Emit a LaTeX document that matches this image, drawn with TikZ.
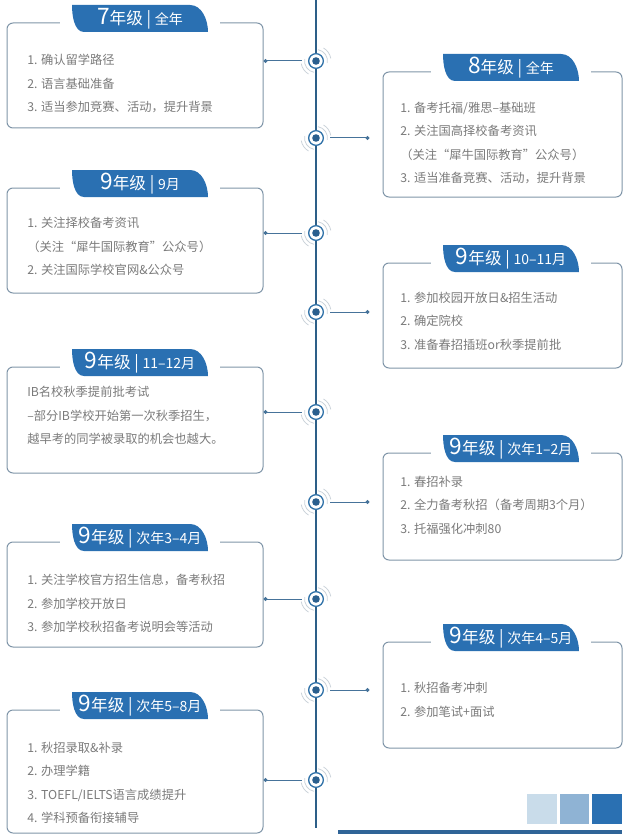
\documentclass[tikz,border=0pt]{standalone}
\usepackage{fontspec}
\setmainfont{Noto Sans CJK SC}
\usetikzlibrary{fit,calc,arrows.meta}

\definecolor{tabblue}{HTML}{2A70B2}
\definecolor{railblue}{HTML}{2D5F88}
\definecolor{ringblue}{HTML}{3172A8}
\definecolor{dotblue}{HTML}{2A5F8E}
\definecolor{halogray}{HTML}{CBD3DA}
\definecolor{boxgray}{HTML}{7F95A8}
\definecolor{textgray}{HTML}{7A7A7A}
\definecolor{linkblue}{HTML}{46739A}
\definecolor{sqlight}{HTML}{C9DCEA}
\definecolor{sqmid}{HTML}{8FB3D4}
\definecolor{sqdark}{HTML}{2A70B2}
\definecolor{barblue}{HTML}{2F6497}

% tab over the top edge of a box: #1 left x, #2 y of the box top
\newcommand{\gradetab}[2]{%
  \fill[white] (#1-12,#2-2) rectangle (#1+148,#2+2);
  \fill[tabblue] (#1,#2-18) -- ++(118,0) .. controls +(12,0) and +(0,-12) .. ++(18,27)
    -- ++(-124,0) .. controls +(-10,0) and +(0,10) .. ++(-12,-27) -- cycle;
}
\newcommand{\gradelabel}[2]{{\fontsize{17}{17}\selectfont #1}{\fontsize{12.5}{12}\selectfont 年级 | }{\fontsize{10.5}{10}\selectfont #2}}

\begin{document}
\begin{tikzpicture}[x=0.75pt, y=-0.75pt,
  entry/.style={draw=boxgray, line width=0.75pt, rounded corners=4.5pt, inner sep=0pt},
  items/.style={anchor=west, align=left, text=textgray, inner sep=0pt, font=\fontsize{9.2}{17.6}\selectfont},
  tabtext/.style={text=white, inner sep=0pt},
  milestone/.style={circle, draw=ringblue, line width=1pt, fill=white, minimum size=11pt, inner sep=0pt},
  halo/.style={draw=halogray, line width=0.6pt},
  rail/.style={draw=railblue, line width=1pt},
  linkl/.style={draw=linkblue, line width=0.75pt, {Circle[length=3pt]}-, shorten >=4.5pt},
  linkr/.style={draw=linkblue, line width=0.75pt, -{Circle[length=3pt]}, shorten <=4.5pt}]
\useasboundingbox (0,0) rectangle (628,838);

% timeline
\coordinate (top) at (316,0);
\coordinate (bottom) at (316,828);
\draw[rail] (top) -- (bottom);

% left column
\node[entry, fit={(7,23) (263,128)}] (b1) {};
\gradetab{72}{23}
\node[tabtext] (t1) at (140,18.5) {\gradelabel{7}{全年}};
\node[items] (i1) at (27,83.5) {1. 确认留学路径\\2. 语言基础准备\\3. 适当参加竞赛、活动，提升背景};

\node[entry, fit={(7,188) (263,293)}] (b3) {};
\gradetab{72}{188}
\node[tabtext] (t3) at (140,183.5) {\gradelabel{9}{9月}};
\node[items] (i3) at (27,246.5) {1. 关注择校备考资讯\\（关注“犀牛国际教育”公众号）\\2. 关注国际学校官网\&公众号};

\node[entry, fit={(7,367) (263,473)}] (b5) {};
\gradetab{72}{367}
\node[tabtext] (t5) at (140,362.5) {\gradelabel{9}{11–12月}};
\node[items] (i5) at (27,415.5) {IB名校秋季提前批考试\\–部分IB学校开始第一次秋季招生，\\越早考的同学被录取的机会也越大。};

\node[entry, fit={(7,542) (263,647)}] (b7) {};
\gradetab{72}{542}
\node[tabtext] (t7) at (140,537.5) {\gradelabel{9}{次年3–4月}};
\node[items] (i7) at (27,603.5) {1. 关注学校官方招生信息，备考秋招\\2. 参加学校开放日\\3. 参加学校秋招备考说明会等活动};

\node[entry, fit={(7,710) (263,833)}] (b9) {};
\gradetab{72}{710}
\node[tabtext] (t9) at (140,705.5) {\gradelabel{9}{次年5–8月}};
\node[items] (i9) at (27,783) {1. 秋招录取\&补录\\2. 办理学籍\\3. TOEFL/IELTS语言成绩提升\\4. 学科预备衔接辅导};

% right column
\node[entry, fit={(383,72) (622,197)}] (b2) {};
\gradetab{443}{72}
\node[tabtext] (t2) at (511,67.5) {\gradelabel{8}{全年}};
\node[items] (i2) at (400,143) {1. 备考托福/雅思–基础班\\2. 关注国高择校备考资讯\\（关注“犀牛国际教育”公众号）\\3. 适当准备竞赛、活动，提升背景};

\node[entry, fit={(383,263) (622,368)}] (b4) {};
\gradetab{443}{263}
\node[tabtext] (t4) at (511,258.5) {\gradelabel{9}{10–11月}};
\node[items] (i4) at (400,321) {1. 参加校园开放日\&招生活动\\2. 确定院校\\3. 准备春招插班or秋季提前批};

\node[entry, fit={(383,453) (622,560)}] (b6) {};
\gradetab{443}{453}
\node[tabtext] (t6) at (511,448.5) {\gradelabel{9}{次年1–2月}};
\node[items] (i6) at (400,505) {1. 春招补录\\2. 全力备考秋招（备考周期3个月）\\3. 托福强化冲刺80};

\node[entry, fit={(383,642) (622,748)}] (b8) {};
\gradetab{443}{642}
\node[tabtext] (t8) at (511,637.5) {\gradelabel{9}{次年4–5月}};
\node[items] (i8) at (400,700) {1. 秋招备考冲刺\\2. 参加笔试+面试};

% milestones on the timeline
\foreach \n/\y in {1/61,2/138,3/233,4/312,5/412,6/502,7/599,8/690,9/780}
  \node[milestone] (m\n) at (316,\y) {};
\foreach \n in {1,...,9} {
  \fill[dotblue] (m\n) circle (3.8);
  \draw[halo] (m\n) ++(100:11.5) arc[start angle=100, end angle=190, radius=11.5];
  \draw[halo] (m\n) ++(280:11.5) arc[start angle=280, end angle=370, radius=11.5];
  \draw[halo] (m\n) ++(120:15) arc[start angle=120, end angle=170, radius=15];
  \draw[halo] (m\n) ++(300:15) arc[start angle=300, end angle=350, radius=15];
}

% connectors
\draw[linkl] (b1.east |- m1) -- (m1);
\draw[linkl] (b3.east |- m3) -- (m3);
\draw[linkl] (b5.east |- m5) -- (m5);
\draw[linkl] (b7.east |- m7) -- (m7);
\draw[linkl] (b9.east |- m9) -- (m9);
\draw[linkr] (m2) -- ($(m2 -| b2.west)+(-13,0)$);
\draw[linkr] (m4) -- ($(m4 -| b4.west)+(-13,0)$);
\draw[linkr] (m6) -- ($(m6 -| b6.west)+(-13,0)$);
\draw[linkr] (m8) -- ($(m8 -| b8.west)+(-13,0)$);

% corner decoration
\fill[sqlight] (527,794) rectangle (557,824);
\fill[sqmid] (560,794) rectangle (589,824);
\fill[sqdark] (592,794) rectangle (622,824);
\fill[barblue] (338,830) rectangle (622,834);
\end{tikzpicture}
\end{document}
